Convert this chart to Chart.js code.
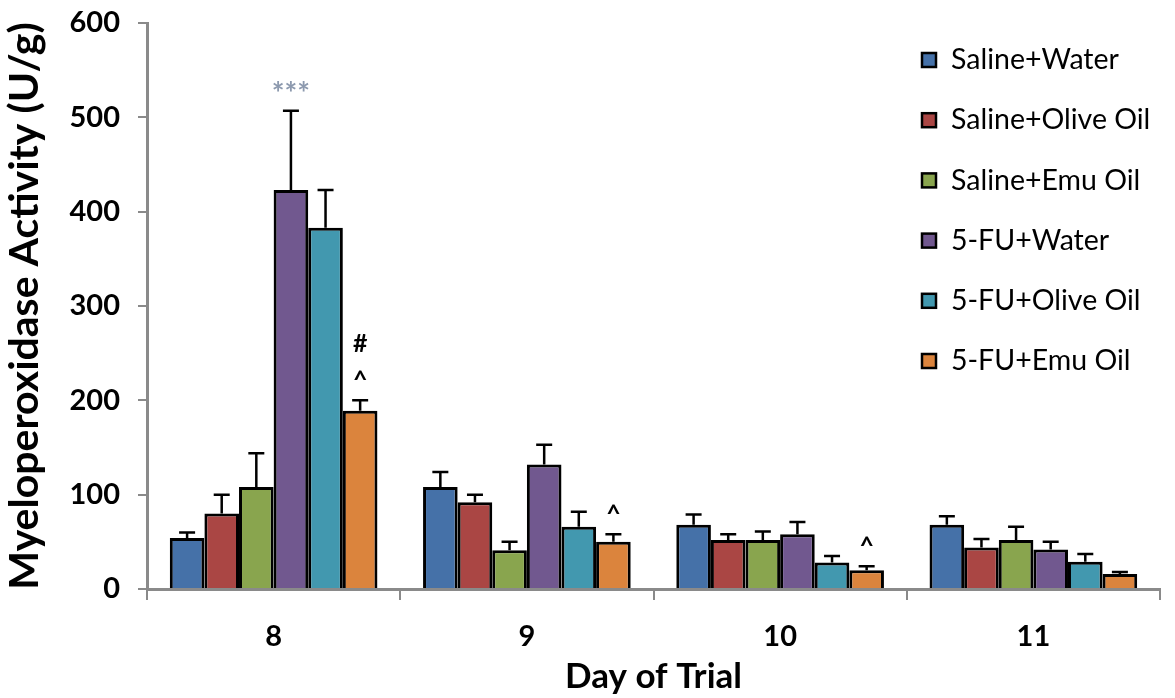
<!DOCTYPE html>
<html>
<head>
<meta charset="utf-8">
<script src="https://cdn.jsdelivr.net/npm/chart.js@4"></script>
<style>
  body { margin: 0; background: #fff; }
  canvas { display: block; }
</style>
</head>
<body>
<canvas id="myChart" width="1175" height="698"></canvas>
<script>
/* DATOS */
const days = ['8', '9', '10', '11'];
const groupNames = ['Saline+Water', 'Saline+Olive Oil', 'Saline+Emu Oil', '5-FU+Water', '5-FU+Olive Oil', '5-FU+Emu Oil'];
const salineWater = [54, 108, 68, 68];
const salineOlive = [80, 92, 52, 44];
const salineEmu = [108, 41, 52, 52];
const fuWater = [423, 132, 58, 42];
const fuOlive = [383, 66, 28, 29];
const fuEmu = [189, 50, 20, 16];
/* ERROR (SEM) */
const salineWaterErr = [6, 16, 11, 9];
const salineOliveErr = [20, 8, 6, 9];
const salineEmuErr = [36, 9, 9, 14];
const fuWaterErr = [84, 21, 13, 8];
const fuOliveErr = [40, 16, 7, 8];
const fuEmuErr = [11, 8, 4, 2];
const yTicks = [0, 100, 200, 300, 400, 500, 600];
/* MARCAS DE SIGNIFICANCIA: serie, dia, texto */
const marks = [
  { series: 3, day: 0, text: '***' },
  { series: 5, day: 0, text: '^' },
  { series: 5, day: 0, text: '#' },
  { series: 5, day: 1, text: '^' },
  { series: 5, day: 2, text: '^' }
];

const colors = ['#4571a8', '#aa4644', '#89a54e', '#71588f', '#4298af', '#db843d'];
const values = [salineWater, salineOlive, salineEmu, fuWater, fuOlive, fuEmu];
const errors = [salineWaterErr, salineOliveErr, salineEmuErr, fuWaterErr, fuOliveErr, fuEmuErr];

const errorBars = {
  id: 'errorBars',
  afterDatasetsDraw: (chart) => {
    const ctx = chart.ctx;
    const y = chart.scales.y;
    ctx.save();
    ctx.strokeStyle = '#000';
    ctx.lineWidth = 2.5;
    chart.data.datasets.forEach((ds, i) => {
      const meta = chart.getDatasetMeta(i);
      meta.data.forEach((bar, j) => {
        const top = y.getPixelForValue(ds.data[j] + ds.err[j]);
        ctx.beginPath();
        ctx.moveTo(bar.x, bar.y);
        ctx.lineTo(bar.x, top);
        ctx.moveTo(bar.x - 8, top);
        ctx.lineTo(bar.x + 8, top);
        ctx.stroke();
      });
    });
    ctx.restore();
  }
};

const sigMarks = {
  id: 'sigMarks',
  afterDatasetsDraw: (chart) => {
    const ctx = chart.ctx;
    const y = chart.scales.y;
    ctx.save();
    ctx.textAlign = 'center';
    ctx.textBaseline = 'middle';
    let count = {};
    marks.forEach((m) => {
      const ds = chart.data.datasets[m.series];
      const bar = chart.getDatasetMeta(m.series).data[m.day];
      const top = y.getPixelForValue(ds.data[m.day] + ds.err[m.day]);
      const key = m.series + '-' + m.day;
      const n = count[key] || 0;
      count[key] = n + 1;
      if (m.text == '***') {
        ctx.fillStyle = 'rgba(120,135,160,0.85)';
        ctx.font = 'bold 30px Lato';
        ctx.fillText(m.text, bar.x, top - 16);
      } else {
        ctx.fillStyle = '#000';
        ctx.font = 'bold 25px Lato';
        ctx.fillText(m.text, bar.x, top - 20 - n * 36);
      }
    });
    ctx.restore();
  }
};

const sideLegend = {
  id: 'sideLegend',
  afterDraw: (chart) => {
    const ctx = chart.ctx;
    ctx.save();
    ctx.font = '28.5px Lato';
    ctx.textBaseline = 'middle';
    chart.data.datasets.forEach((ds, i) => {
      const rowY = 60 + i * 60.2;
      ctx.fillStyle = ds.backgroundColor;
      ctx.fillRect(922, rowY - 7, 14, 14);
      ctx.strokeStyle = '#000';
      ctx.lineWidth = 2.5;
      ctx.strokeRect(922, rowY - 7, 14, 14);
      ctx.fillStyle = '#000';
      ctx.fillText(ds.label, 951, rowY);
    });
    ctx.restore();
  }
};

const ctx = document.getElementById('myChart');
const dataset = {
  labels: days,
  datasets: groupNames.map((name, i) => ({
    label: name,
    data: values[i],
    err: errors[i],
    backgroundColor: colors[i],
    borderColor: '#000',
    borderWidth: 3,
    categoryPercentage: 0.82,
    barPercentage: 1.0
  }))
};

const config = {
  type: 'bar',
  data: dataset,
  options: {
    responsive: false,
    animation: false,
    layout: { padding: { top: 23, right: 15, left: 0, bottom: 0 } },
    plugins: {
      legend: { display: false },
      tooltip: { enabled: false }
    },
    scales: {
      x: {
        afterFit: (scale) => { scale.height = 109; },
        grid: { drawOnChartArea: false, drawTicks: true, tickLength: 11, color: '#8a8a8a', lineWidth: 2 },
        border: { color: '#8a8a8a', width: 3 },
        ticks: { color: '#000', font: { family: 'Lato', weight: 'bold', size: 29 }, padding: 19 },
        title: { display: true, text: 'Day of Trial', color: '#000', font: { family: 'Lato', weight: 'bold', size: 35 }, padding: { top: 0, bottom: 0 } }
      },
      y: {
        min: 0,
        max: 600,
        afterFit: (scale) => {
          scale.width = 147;
          scale.paddingTop = 0;
          scale.paddingBottom = 0;
        },
        afterBuildTicks: (scale) => { scale.ticks = yTicks.map(v => ({ value: v })); },
        grid: { drawOnChartArea: false, drawTicks: true, tickLength: 9, color: '#8a8a8a', lineWidth: 2 },
        border: { color: '#8a8a8a', width: 3 },
        ticks: { color: '#000', font: { family: 'Lato', weight: 'bold', size: 29 }, padding: 18 },
        title: { display: true, text: 'Myeloperoxidase Activity (U/g)', color: '#000', font: { family: 'Lato', weight: 'bold', size: 41 }, padding: { top: 0, bottom: 2 } }
      }
    }
  },
  plugins: [errorBars, sigMarks, sideLegend]
};
let chart = new Chart(ctx, config);
</script>
</body>
</html>
